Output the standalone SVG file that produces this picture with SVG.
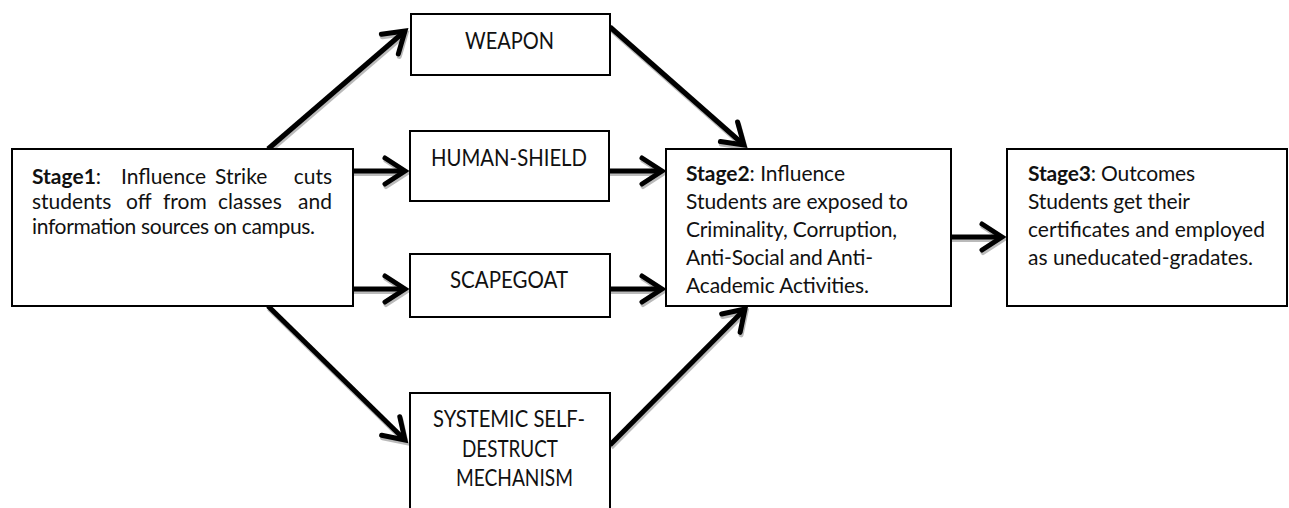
<svg xmlns="http://www.w3.org/2000/svg" width="1289" height="508" viewBox="0 0 1289 508">
<style>
.box{fill:#fff;stroke:#000;stroke-width:2}
.t{font-family:Lato,"Open Sans","Liberation Sans",sans-serif;font-size:21px;fill:#111}
.u{font-size:22.5px}
.b{font-weight:bold}
.ln{fill:none;stroke:#000;stroke-width:5;marker-end:url(#ah)}
.sh{fill:none;stroke:#aaa;stroke-width:5;marker-end:url(#ahs)}
</style>
<defs>
<marker id="ah" markerUnits="userSpaceOnUse" viewBox="-30 -20 40 40" refX="0" refY="0" markerWidth="40" markerHeight="40" orient="auto" overflow="visible">
<path d="M-20,-13 L0,0 L-20,13" fill="none" stroke="#000" stroke-width="5" stroke-linecap="round"/>
</marker>
<marker id="ahs" markerUnits="userSpaceOnUse" viewBox="-30 -20 40 40" refX="0" refY="0" markerWidth="40" markerHeight="40" orient="auto" overflow="visible">
<path d="M-20,-13 L0,0 L-20,13" fill="none" stroke="#aaa" stroke-width="5" stroke-linecap="round"/>
</marker>
</defs>
<rect width="1289" height="508" fill="#fff"/>
<g id="connectors">
<g transform="translate(1,2.5)" opacity="0.8">
<path class="sh" d="M268,149 L405,31"/>
<path class="sh" d="M353,171 L405,171"/>
<path class="sh" d="M353,289 L405,289"/>
<path class="sh" d="M268,306 L405,440"/>
<path class="sh" d="M610,27 L744,145"/>
<path class="sh" d="M609,171 L662,171"/>
<path class="sh" d="M610,289 L662,289"/>
<path class="sh" d="M610,445 L745,309"/>
<path class="sh" d="M951,237 L1002,237"/>
</g>
<path class="ln" d="M268,149 L405,31"/>
<path class="ln" d="M353,171 L405,171"/>
<path class="ln" d="M353,289 L405,289"/>
<path class="ln" d="M268,306 L405,440"/>
<path class="ln" d="M610,27 L744,145"/>
<path class="ln" d="M609,171 L662,171"/>
<path class="ln" d="M610,289 L662,289"/>
<path class="ln" d="M610,445 L745,309"/>
<path class="ln" d="M951,237 L1002,237"/>
</g>
<g id="stage1">
<rect class="box" x="12" y="149" width="341" height="157"/>
<text class="t" y="184"><tspan x="32" class="b">Stage1</tspan><tspan>:</tspan><tspan x="121">Influence</tspan><tspan x="215">Strike</tspan><tspan x="332" text-anchor="end">cuts</tspan></text>
<text class="t" y="209"><tspan x="32">students</tspan><tspan x="126">off</tspan><tspan x="163">from</tspan><tspan x="218">classes</tspan><tspan x="332" text-anchor="end">and</tspan></text>
<text class="t" x="32" y="234" textLength="283" lengthAdjust="spacing">information sources on campus.</text>
</g>
<g id="weapon">
<rect class="box" x="411" y="14" width="199" height="61"/>
<text class="t u" x="465" y="49" textLength="89" lengthAdjust="spacingAndGlyphs">WEAPON</text>
</g>
<g id="human-shield">
<rect class="box" x="410" y="131" width="199" height="70"/>
<text class="t u" x="431" y="166" textLength="156" lengthAdjust="spacingAndGlyphs">HUMAN-SHIELD</text>
</g>
<g id="scapegoat">
<rect class="box" x="410" y="254" width="200" height="63"/>
<text class="t u" x="450" y="288" textLength="118" lengthAdjust="spacingAndGlyphs">SCAPEGOAT</text>
</g>
<g id="systemic">
<rect class="box" x="410" y="393" width="200" height="130"/>
<text class="t u" x="433" y="427" textLength="152" lengthAdjust="spacingAndGlyphs">SYSTEMIC SELF-</text>
<text class="t u" x="462" y="457" textLength="96" lengthAdjust="spacingAndGlyphs">DESTRUCT</text>
<text class="t u" x="456" y="486" textLength="117" lengthAdjust="spacingAndGlyphs">MECHANISM</text>
</g>
<g id="stage2">
<rect class="box" x="666" y="149" width="285" height="157"/>
<text class="t" x="686" y="181" textLength="159" lengthAdjust="spacing"><tspan class="b">Stage2</tspan>: Influence</text>
<text class="t" x="686" y="209" textLength="222" lengthAdjust="spacing">Students are exposed to</text>
<text class="t" x="686" y="237" textLength="211" lengthAdjust="spacing">Criminality, Corruption,</text>
<text class="t" x="686" y="265" textLength="187" lengthAdjust="spacing">Anti-Social and Anti-</text>
<text class="t" x="686" y="293" textLength="183" lengthAdjust="spacing">Academic Activities.</text>
</g>
<g id="stage3">
<rect class="box" x="1007" y="149" width="280" height="157"/>
<text class="t" x="1028" y="181" textLength="167" lengthAdjust="spacing"><tspan class="b">Stage3</tspan>: Outcomes</text>
<text class="t" x="1028" y="209" textLength="162" lengthAdjust="spacing">Students get their</text>
<text class="t" x="1028" y="237" textLength="237" lengthAdjust="spacing">certificates and employed</text>
<text class="t" x="1028" y="265" textLength="225" lengthAdjust="spacing">as uneducated-gradates.</text>
</g>
</svg>
